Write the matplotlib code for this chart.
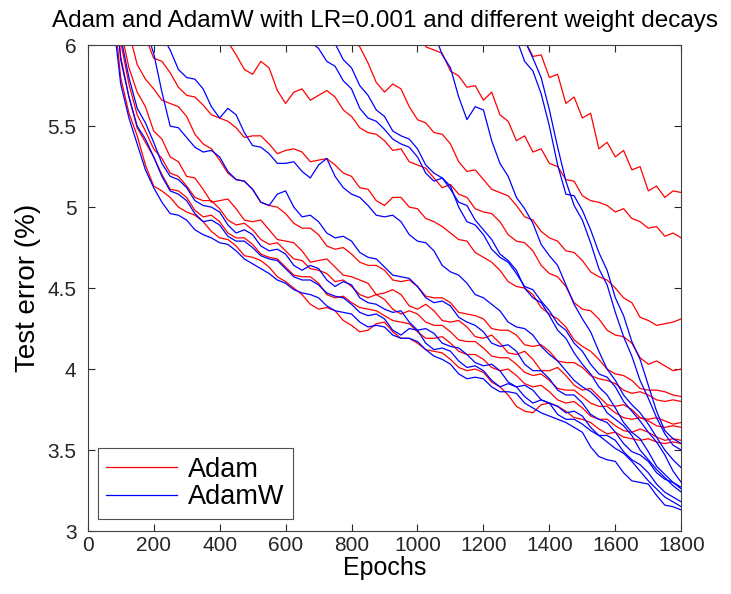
import numpy as np
import matplotlib
matplotlib.use("Agg")
import matplotlib.pyplot as plt

plt.rcParams["font.family"] = ["Liberation Sans", "DejaVu Sans"]

# every run is sampled every 25 epochs and ends at epoch 1800
STEP = 25
LAST_EPOCH = 1800

adam_1 = [6.30, 6.21, 6.12, 6.03, 5.93, 5.94, 5.80, 5.82, 5.64, 5.68, 5.55, 5.58, 5.36, 5.40,
          5.31, 5.35, 5.23, 5.25, 5.10, 5.13, 5.06, 5.10, 5.09]
adam_2 = [6.30, 6.16, 6.10, 5.99, 5.97, 5.95, 5.84, 5.81, 5.74, 5.75, 5.66, 5.71, 5.57, 5.53,
          5.41, 5.44, 5.34, 5.36, 5.27, 5.25, 5.17, 5.16, 5.07, 5.04, 5.03, 5.01, 4.97, 4.99,
          4.93, 4.91, 4.87, 4.88, 4.82, 4.84, 4.81]
adam_3 = [6.25, 6.12, 6.04, 5.99, 5.89, 5.77, 5.71, 5.76, 5.73, 5.62, 5.54, 5.52, 5.46, 5.45,
          5.39, 5.28, 5.22, 5.23, 5.17, 5.11, 5.09, 5.07, 5.01, 4.94, 4.92, 4.85, 4.81, 4.79,
          4.73, 4.72, 4.67, 4.60, 4.57, 4.55, 4.50, 4.44, 4.41, 4.32, 4.30, 4.27, 4.28, 4.29,
          4.31]
adam_4 = [6.20, 6.02, 5.94, 5.85, 5.82, 5.90, 5.86, 5.72, 5.64, 5.71, 5.73, 5.66, 5.69, 5.72,
          5.68, 5.60, 5.56, 5.49, 5.46, 5.45, 5.41, 5.35, 5.36, 5.28, 5.26, 5.24, 5.18, 5.12,
          5.14, 5.08, 5.06, 4.99, 4.97, 4.96, 4.91, 4.83, 4.79, 4.78, 4.73, 4.64, 4.59, 4.57,
          4.51, 4.41, 4.37, 4.36, 4.31, 4.24, 4.21, 4.20, 4.16, 4.07, 4.03, 4.05, 4.02, 3.99,
          4.00]
adam_5 = [6.30, 6.05, 5.92, 5.90, 5.83, 5.74, 5.69, 5.68, 5.63, 5.57, 5.55, 5.53, 5.49, 5.43,
          5.44, 5.44, 5.39, 5.33, 5.35, 5.36, 5.34, 5.28, 5.29, 5.30, 5.26, 5.21, 5.19, 5.12,
          5.11, 5.04, 5.01, 5.06, 5.06, 5.00, 4.99, 4.93, 4.91, 4.88, 4.84, 4.80, 4.79, 4.72,
          4.69, 4.66, 4.61, 4.54, 4.51, 4.50, 4.46, 4.38, 4.34, 4.31, 4.26, 4.18, 4.14, 4.11,
          4.06, 4.00, 3.97, 3.96, 3.93, 3.88, 3.87, 3.87, 3.86, 3.84, 3.83]
adam_6 = [7.50, 6.90, 6.40, 6.08, 5.88, 5.79, 5.73, 5.66, 5.64, 5.62, 5.56, 5.45, 5.39, 5.36,
          5.29, 5.21, 5.17, 5.16, 5.11, 5.03, 5.01, 5.00, 4.96, 4.90, 4.87, 4.87, 4.83, 4.76,
          4.74, 4.75, 4.71, 4.66, 4.64, 4.64, 4.61, 4.55, 4.54, 4.55, 4.51, 4.45, 4.44, 4.44,
          4.41, 4.35, 4.34, 4.33, 4.31, 4.25, 4.24, 4.24, 4.21, 4.15, 4.14, 4.15, 4.11, 4.05,
          4.04, 4.04, 4.01, 3.96, 3.94, 3.93, 3.91, 3.87, 3.85, 3.86, 3.84, 3.81, 3.80, 3.81,
          3.80]
adam_7 = [7.30, 6.60, 6.10, 5.86, 5.71, 5.62, 5.47, 5.42, 5.31, 5.28, 5.19, 5.18, 5.11, 5.03,
          5.04, 5.05, 4.99, 4.92, 4.91, 4.92, 4.86, 4.80, 4.79, 4.78, 4.73, 4.66, 4.67, 4.68,
          4.63, 4.58, 4.57, 4.55, 4.53, 4.46, 4.47, 4.49, 4.46, 4.39, 4.37, 4.40, 4.36, 4.30,
          4.29, 4.30, 4.26, 4.20, 4.19, 4.21, 4.16, 4.10, 4.09, 4.11, 4.06, 3.99, 3.99, 4.01,
          3.96, 3.90, 3.87, 3.88, 3.83, 3.78, 3.77, 3.78, 3.75, 3.70, 3.69, 3.70, 3.68, 3.66,
          3.67]
adam_8 = [7.20, 6.50, 6.02, 5.76, 5.57, 5.47, 5.36, 5.30, 5.21, 5.19, 5.13, 5.06, 5.04, 5.04,
          4.99, 4.92, 4.89, 4.90, 4.86, 4.80, 4.77, 4.78, 4.73, 4.68, 4.67, 4.62, 4.61, 4.59,
          4.54, 4.55, 4.51, 4.46, 4.44, 4.46, 4.43, 4.37, 4.34, 4.36, 4.34, 4.29, 4.27, 4.27,
          4.23, 4.18, 4.17, 4.17, 4.13, 4.08, 4.07, 4.07, 4.03, 3.98, 3.96, 3.97, 3.93, 3.88,
          3.87, 3.87, 3.83, 3.79, 3.77, 3.77, 3.73, 3.70, 3.69, 3.70, 3.68, 3.65, 3.64, 3.65,
          3.64]
adam_9 = [7.10, 6.40, 5.93, 5.68, 5.49, 5.40, 5.31, 5.20, 5.11, 5.10, 5.06, 4.98, 4.94, 4.95,
          4.91, 4.84, 4.81, 4.81, 4.77, 4.71, 4.69, 4.68, 4.63, 4.58, 4.57, 4.57, 4.53, 4.46,
          4.44, 4.45, 4.41, 4.38, 4.37, 4.36, 4.33, 4.30, 4.29, 4.28, 4.23, 4.19, 4.19, 4.20,
          4.16, 4.11, 4.09, 4.09, 4.06, 4.01, 3.99, 4.00, 3.96, 3.91, 3.89, 3.90, 3.86, 3.81,
          3.79, 3.80, 3.76, 3.71, 3.69, 3.69, 3.65, 3.62, 3.61, 3.63, 3.61, 3.58, 3.56, 3.57,
          3.56]
adam_10 = [7.00, 6.30, 5.80, 5.58, 5.44, 5.26, 5.13, 5.10, 5.06, 5.00, 4.97, 4.95, 4.91, 4.85,
           4.81, 4.80, 4.76, 4.70, 4.69, 4.67, 4.63, 4.57, 4.54, 4.50, 4.46, 4.40, 4.37, 4.38,
           4.36, 4.30, 4.27, 4.23, 4.24, 4.28, 4.29, 4.23, 4.19, 4.19, 4.16, 4.12, 4.11, 4.10,
           4.06, 4.01, 3.99, 4.00, 3.98, 3.92, 3.89, 3.84, 3.77, 3.74, 3.73, 3.78, 3.79, 3.77,
           3.74, 3.70, 3.69, 3.67, 3.63, 3.60, 3.61, 3.58, 3.57, 3.56, 3.57, 3.55, 3.54, 3.55,
           3.54]

adamw_1 = [6.30, 6.12, 6.04, 5.90, 5.84, 5.70, 5.50, 5.26, 5.08, 5.07, 4.98, 4.86, 4.72, 4.61,
           4.44, 4.33, 4.17, 4.06, 3.90, 3.74, 3.62, 3.57, 3.54]
adamw_2 = [6.18, 6.03, 5.92, 5.80, 5.60, 5.37, 5.16, 5.01, 4.92, 4.78, 4.62, 4.52, 4.35, 4.20,
           4.08, 3.93, 3.82, 3.70, 3.60, 3.53, 3.50]
adamw_3 = [6.08, 5.94, 5.86, 5.68, 5.54, 5.62, 5.60, 5.41, 5.27, 5.19, 5.06, 4.99, 4.90, 4.77,
           4.70, 4.64, 4.52, 4.40, 4.31, 4.23, 4.11, 4.00, 3.93, 3.84, 3.78, 3.73, 3.66, 3.58,
           3.50, 3.44, 3.39]
adamw_4 = [6.12, 6.02, 5.98, 5.90, 5.87, 5.78, 5.73, 5.61, 5.55, 5.53, 5.48, 5.42, 5.39, 5.37,
           5.31, 5.21, 5.16, 5.18, 5.13, 5.00, 4.91, 4.89, 4.83, 4.74, 4.69, 4.66, 4.59, 4.51,
           4.49, 4.42, 4.36, 4.28, 4.24, 4.16, 4.11, 4.03, 3.97, 3.95, 3.89, 3.80, 3.74, 3.68,
           3.61, 3.55, 3.47, 3.37, 3.30]
adamw_5 = [6.18, 6.05, 6.01, 5.91, 5.86, 5.75, 5.69, 5.60, 5.56, 5.47, 5.44, 5.42, 5.36, 5.26,
           5.21, 5.18, 5.11, 5.03, 5.01, 4.92, 4.86, 4.80, 4.71, 4.67, 4.61, 4.50, 4.44, 4.41,
           4.33, 4.24, 4.19, 4.10, 4.03, 3.97, 3.89, 3.84, 3.76, 3.67, 3.61, 3.57, 3.49, 3.40,
           3.35, 3.30, 3.27]
adamw_6 = [6.25, 6.06, 5.97, 5.85, 5.80, 5.79, 5.73, 5.62, 5.55, 5.61, 5.57, 5.46, 5.38, 5.37,
           5.33, 5.27, 5.27, 5.28, 5.22, 5.18, 5.26, 5.30, 5.19, 5.12, 5.08, 5.06, 5.01, 4.95,
           4.94, 4.95, 4.91, 4.83, 4.79, 4.78, 4.73, 4.64, 4.60, 4.58, 4.53, 4.46, 4.44, 4.40,
           4.36, 4.29, 4.26, 4.25, 4.21, 4.14, 4.09, 4.05, 3.99, 3.93, 3.89, 3.86, 3.81, 3.73,
           3.69, 3.65, 3.59, 3.50, 3.44, 3.38, 3.33, 3.28, 3.24]
adamw_7 = [6.30, 6.10, 5.95, 5.71, 5.50, 5.49, 5.43, 5.37, 5.34, 5.35, 5.31, 5.22, 5.17, 5.16,
           5.11, 5.03, 5.01, 5.08, 5.10, 5.00, 4.94, 4.95, 4.91, 4.84, 4.81, 4.82, 4.79, 4.72,
           4.69, 4.68, 4.63, 4.58, 4.57, 4.56, 4.51, 4.44, 4.41, 4.42, 4.39, 4.32, 4.29, 4.27,
           4.23, 4.16, 4.14, 4.15, 4.11, 4.03, 3.99, 3.99, 3.94, 3.87, 3.84, 3.84, 3.79, 3.72,
           3.69, 3.67, 3.61, 3.54, 3.49, 3.47, 3.43, 3.36, 3.32, 3.30, 3.26]
adamw_8 = [7.40, 6.60, 6.05, 5.80, 5.61, 5.52, 5.40, 5.27, 5.19, 5.17, 5.12, 5.04, 5.01, 5.00,
           4.97, 4.89, 4.84, 4.86, 4.83, 4.76, 4.73, 4.74, 4.71, 4.64, 4.61, 4.64, 4.62, 4.55,
           4.51, 4.54, 4.52, 4.44, 4.41, 4.40, 4.37, 4.35, 4.36, 4.29, 4.24, 4.25, 4.22, 4.16,
           4.14, 4.13, 4.09, 4.04, 4.02, 4.03, 3.99, 3.92, 3.89, 3.90, 3.87, 3.81, 3.79, 3.77,
           3.73, 3.74, 3.71, 3.64, 3.59, 3.59, 3.56, 3.49, 3.44, 3.41, 3.36, 3.29, 3.24, 3.21,
           3.18]
adamw_9 = [7.20, 6.50, 5.91, 5.68, 5.50, 5.42, 5.31, 5.19, 5.10, 5.08, 5.04, 4.96, 4.91, 4.92,
           4.89, 4.82, 4.79, 4.79, 4.75, 4.70, 4.68, 4.67, 4.62, 4.57, 4.55, 4.55, 4.52, 4.47,
           4.45, 4.44, 4.40, 4.35, 4.33, 4.34, 4.31, 4.24, 4.21, 4.25, 4.24, 4.16, 4.12, 4.13,
           4.11, 4.05, 4.01, 4.02, 3.99, 3.93, 3.89, 3.91, 3.89, 3.83, 3.79, 3.81, 3.79, 3.72,
           3.69, 3.69, 3.66, 3.62, 3.59, 3.55, 3.51, 3.48, 3.43, 3.37, 3.31, 3.26, 3.21, 3.18,
           3.15]
adamw_10 = [7.00, 6.20, 5.76, 5.55, 5.39, 5.23, 5.12, 5.03, 4.96, 4.95, 4.92, 4.86, 4.83, 4.81,
            4.78, 4.77, 4.73, 4.68, 4.65, 4.62, 4.59, 4.55, 4.53, 4.49, 4.47, 4.46, 4.44, 4.39,
            4.36, 4.35, 4.34, 4.29, 4.26, 4.27, 4.26, 4.21, 4.19, 4.19, 4.17, 4.12, 4.08, 4.06,
            4.03, 3.97, 3.94, 3.95, 3.94, 3.89, 3.86, 3.86, 3.85, 3.79, 3.76, 3.73, 3.71, 3.69,
            3.67, 3.64, 3.61, 3.52, 3.46, 3.44, 3.43, 3.36, 3.31, 3.30, 3.29, 3.22, 3.16, 3.15,
            3.13]

adam_runs = [adam_1, adam_2, adam_3, adam_4, adam_5, adam_6, adam_7, adam_8, adam_9, adam_10]
adamw_runs = [adamw_1, adamw_2, adamw_3, adamw_4, adamw_5, adamw_6, adamw_7, adamw_8, adamw_9,
              adamw_10]

xticks = [0, 200, 400, 600, 800, 1000, 1200, 1400, 1600, 1800]
yticks = [3, 3.5, 4, 4.5, 5, 5.5, 6]
ytick_labels = ["3", "3.5", "4", "4.5", "5", "5.5", "6"]


def run_epochs(vals):
    n = len(vals)
    return LAST_EPOCH - STEP * np.arange(n - 1, -1, -1)


fig = plt.figure(figsize=(7.31, 5.94), dpi=100)
ax = fig.add_axes([0.120, 0.106, 0.812, 0.818])

for i, vals in enumerate(adam_runs):
    ax.plot(run_epochs(vals), vals, color="#ff0000", lw=0.9, label="Adam" if i == 0 else None)
for i, vals in enumerate(adamw_runs):
    ax.plot(run_epochs(vals), vals, color="#0000ff", lw=0.9, label="AdamW" if i == 0 else None)

ax.set_xlim(0, 1800)
ax.set_ylim(3, 6)
ax.set_xticks(xticks)
ax.set_yticks(yticks)
ax.set_yticklabels(ytick_labels)
ax.tick_params(direction="in", top=True, right=True, labelsize=15, colors="#262626",
               length=5, width=0.8)
ax.tick_params(axis="y", pad=8)
for s in ax.spines.values():
    s.set_color("#404040")
    s.set_linewidth(0.8)

ax.set_xlabel("Epochs", fontsize=18, labelpad=1)
ax.set_ylabel("Test error (%)", fontsize=20, labelpad=5)
ax.set_title("Adam and AdamW with LR=0.001 and different weight decays", fontsize=17.5, pad=13)

leg = ax.legend(loc="lower left", bbox_to_anchor=(0.017, 0.025), fontsize=19.5, frameon=True,
                fancybox=False, edgecolor="#262626", handlelength=2.6, handletextpad=0.4,
                borderpad=0.32, labelspacing=0.05, borderaxespad=0)
leg.get_frame().set_linewidth(0.8)

fig.savefig("out.png", dpi=100)
